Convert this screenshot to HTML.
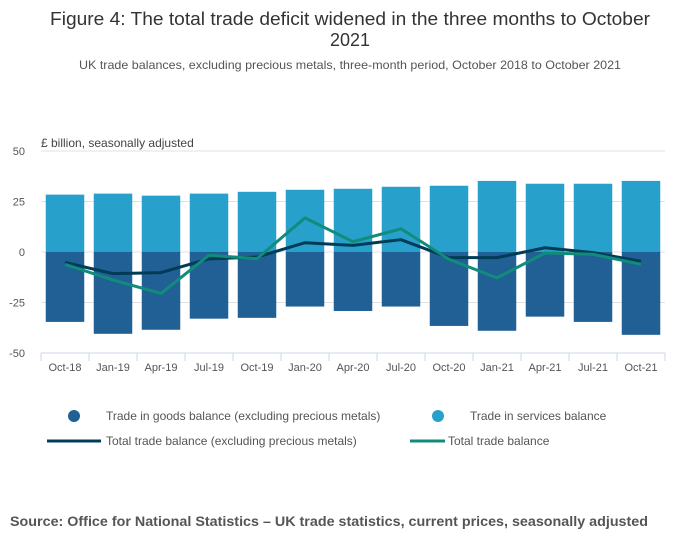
<!DOCTYPE html>
<html><head><meta charset="utf-8"><style>
body{margin:0;background:#fff;font-family:"Liberation Sans",sans-serif;}
#wrap{position:relative;width:700px;height:549px;overflow:hidden}
</style></head><body>
<div id="wrap">
<svg id="svg" width="700" height="549" xmlns="http://www.w3.org/2000/svg">
<text x="350" y="25" text-anchor="middle" font-size="18" fill="#333" textLength="600" lengthAdjust="spacingAndGlyphs">Figure 4: The total trade deficit widened in the three months to October</text>
<text x="350" y="46" text-anchor="middle" font-size="18" fill="#333">2021</text>
<text x="350" y="69" text-anchor="middle" font-size="12" fill="#555" textLength="542" lengthAdjust="spacingAndGlyphs">UK trade balances, excluding precious metals, three-month period, October 2018 to October 2021</text>
<text x="41" y="147" font-size="12" fill="#444">£ billion, seasonally adjusted</text>
<g id="grid"></g><g id="bars"></g><g id="lines"></g><g id="axes"></g>
<g>
<circle cx="74" cy="416" r="6" fill="#206095"/>
<text x="106" y="420" font-size="12" fill="#555">Trade in goods balance (excluding precious metals)</text>
<circle cx="438" cy="416" r="6" fill="#27a0cc"/>
<text x="470" y="420" font-size="12" fill="#555">Trade in services balance</text>
<line x1="47" y1="441" x2="101" y2="441" stroke="#003c57" stroke-width="3"/>
<text x="106" y="445" font-size="12" fill="#555">Total trade balance (excluding precious metals)</text>
<line x1="410" y1="441" x2="445" y2="441" stroke="#118c7b" stroke-width="3"/>
<text x="448" y="445" font-size="12" fill="#555">Total trade balance</text>
</g>
<text x="10" y="526" font-size="14" font-weight="bold" fill="#555" textLength="638" lengthAdjust="spacingAndGlyphs">Source: Office for National Statistics – UK trade statistics, current prices, seasonally adjusted</text>
</svg></div>
<script>
const categories=["Oct-18","Jan-19","Apr-19","Jul-19","Oct-19","Jan-20","Apr-20","Jul-20","Oct-20","Jan-21","Apr-21","Jul-21","Oct-21"];
const services=[28.4,28.9,27.9,28.9,29.8,30.8,31.3,32.3,32.8,35.2,33.8,33.8,35.2];
const goods=[-34.6,-40.5,-38.5,-33,-32.6,-27,-29.2,-27,-36.6,-39,-32,-34.6,-41];
const totalExcl=[-5.2,-10.7,-10.2,-3.4,-2.5,4.6,3.3,6.1,-2.8,-2.8,2.1,-0.3,-4.6];
const total=[-6.1,-13.9,-20.5,-1.6,-3.3,16.9,5.1,11.5,-3.6,-12.8,-0.5,-1.1,-6.1];
const yTicks=[50,25,0,-25,-50];
const NS="http://www.w3.org/2000/svg";
const x0=41,x1=665,yTop=151,yBot=353;
const band=(x1-x0)/categories.length;
const X=i=>x0+band*(i+0.5);
const Y=v=>yTop+(50-v)/100*(yBot-yTop);
function mk(t,a,p){const e=document.createElementNS(NS,t);for(const k in a)e.setAttribute(k,a[k]);p.appendChild(e);return e;}
const grid=document.getElementById('grid'),bars=document.getElementById('bars'),lines=document.getElementById('lines'),axes=document.getElementById('axes');
yTicks.forEach(v=>{
 if(v>-50){const l=mk('line',{x1:x0,x2:x1,y1:Y(v),y2:Y(v),stroke:'#e0e0e0','stroke-width':1},grid);
 
 }
 const t=mk('text',{x:25,y:Y(v)+4,'text-anchor':'end','font-size':11,fill:'#555'},axes);t.textContent=v;
 
 
});
const bw=38.5;
categories.forEach((c,i)=>{
 const s=mk('rect',{x:X(i)-bw/2,y:Y(services[i]),width:bw,height:Y(0)-Y(services[i]),fill:'#27a0cc'},bars);
 
 
 const g=mk('rect',{x:X(i)-bw/2,y:Y(0),width:bw,height:Y(goods[i])-Y(0),fill:'#206095'},bars);
 
 
 const t=mk('text',{x:X(i),y:371,'text-anchor':'middle','font-size':11,fill:'#555'},axes);t.textContent=c;
 
 
 const tk=mk('line',{x1:x0+band*i,x2:x0+band*i,y1:yBot,y2:yBot+8,stroke:'#ccd6e8'},axes);
 
 
});
const tk2=mk('line',{x1:x1,x2:x1,y1:yBot,y2:yBot+8,stroke:'#ccd6e8'},axes);


const ax=mk('line',{x1:x0,x2:x1,y1:yBot,y2:yBot,stroke:'#ccd6e8'},axes);


const l1=mk('polyline',{points:totalExcl.map((v,i)=>X(i)+','+Y(v)).join(' '),fill:'none',stroke:'#003c57','stroke-width':3,'stroke-linejoin':'round'},lines);


const l2=mk('polyline',{points:total.map((v,i)=>X(i)+','+Y(v)).join(' '),fill:'none',stroke:'#118c7b','stroke-width':3,'stroke-linejoin':'round'},lines);


</script>
</body></html>
